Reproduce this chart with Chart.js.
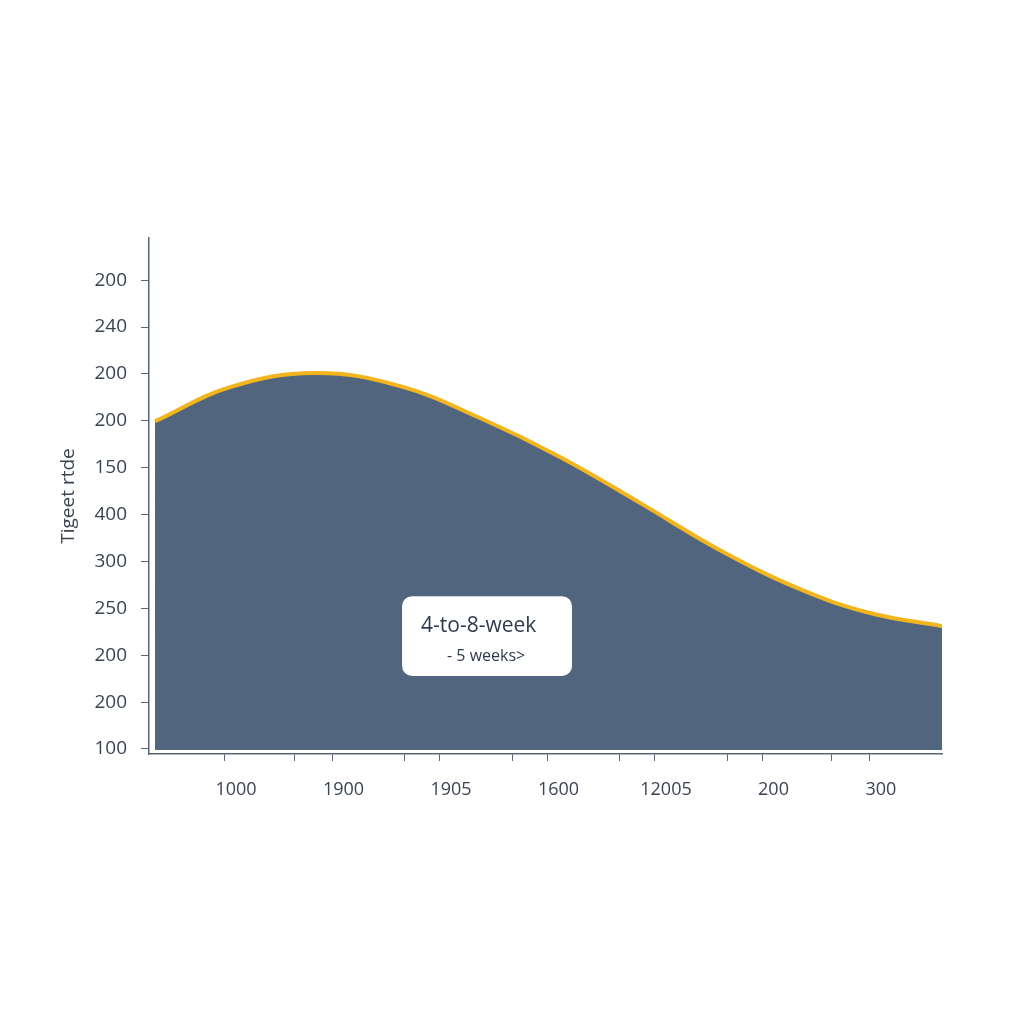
<!DOCTYPE html>
<html>
<head>
<meta charset="utf-8">
<script src="https://cdn.jsdelivr.net/npm/chart.js@4/dist/chart.umd.min.js"></script>
<style>
  html, body { margin: 0; padding: 0; background: #ffffff; }
  #wrap { width: 1024px; height: 1024px; position: relative; }
</style>
</head>
<body>
<div id="wrap"><canvas id="c" width="1024" height="1024"></canvas></div>
<script>
// ---- data ----
const yTickLabels = ['100', '200', '200', '250', '300', '400', '150', '200', '200', '240', '200'];
const xTickLabels = ['1000', '1900', '1905', '1600', '12005', '200', '300'];
const xPositions = [-0.651, 0.047, 0.837, 1.628, 2.372, 3.116, 3.860, 4.605, 5.349, 6.0, 6.67];
const seriesValues = [6.99, 7.72, 8.02, 7.74, 7.06, 6.23, 5.25, 4.24, 3.41, 2.90, 2.62];
const yAxisTitle = 'Tigeet rtde';
const noteTitle = '4-to-8-week';
const noteSub = '- 5 weeks>';

const dataPoints = xPositions.map((x, i) => ({ x: x, y: seriesValues[i] }));
const majorTicks = xTickLabels.map((_, i) => i);
const minorTicks = [0.65, 1.67, 2.67, 3.67, 4.67, 5.64];

const axisColor = '#5a6577';
const textColor = '#3b4453';
const font = "'Open Sans', 'DejaVu Sans', sans-serif";

const notePlugin = {
  id: 'note',
  afterDatasetsDraw(chart) {
    const { ctx, scales } = chart;
    const x0 = scales.x.getPixelForValue(1.647);
    const x1 = scales.x.getPixelForValue(3.228);
    const y0 = scales.y.getPixelForValue(3.26);
    const y1 = scales.y.getPixelForValue(1.556);
    ctx.save();
    ctx.fillStyle = '#ffffff';
    ctx.beginPath();
    ctx.roundRect(x0, y0, x1 - x0, y1 - y0, 10);
    ctx.fill();
    ctx.fillStyle = '#2f3a4c';
    ctx.textBaseline = 'middle';
    ctx.textAlign = 'left';
    ctx.font = "21px " + font;
    ctx.fillText(noteTitle, x0 + 19, y0 + 30);
    ctx.font = "16px " + font;
    ctx.fillText(noteSub, x0 + 45, y0 + 60);
    ctx.restore();
  }
};

new Chart(document.getElementById('c'), {
  type: 'line',
  data: {
    datasets: [{
      data: dataPoints,
      borderColor: '#f2b51d',
      borderWidth: 4,
      backgroundColor: '#52657f',
      fill: { value: -0.02 },
      pointRadius: 0,
      tension: 0.4
    }]
  },
  options: {
    responsive: false,
    animation: false,
    devicePixelRatio: 1,
    layout: { padding: { left: 57, top: 238, right: 82, bottom: 210 } },
    plugins: { legend: { display: false }, tooltip: { enabled: false } },
    scales: {
      x: {
        type: 'linear',
        min: -0.707,
        max: 6.67,
        afterBuildTicks(scale) {
          scale.ticks = majorTicks.concat(minorTicks).map(v => ({ value: v }));
        },
        afterFit(scale) { scale.height = 60; },
        ticks: {
          autoSkip: false,
          maxRotation: 0,
          padding: 18,
          labelOffset: 11,
          color: textColor,
          font: { family: font, size: 18 },
          callback(v) {
            const i = majorTicks.indexOf(v);
            return i >= 0 ? xTickLabels[i] : '';
          }
        },
        grid: { drawOnChartArea: false, drawTicks: true, tickLength: 7, color: axisColor, lineWidth: 1 },
        border: { display: true, color: axisColor, width: 1.5 }
      },
      y: {
        type: 'linear',
        min: -0.107,
        max: 10.9,
        afterBuildTicks(scale) {
          scale.ticks = yTickLabels.map((_, i) => ({ value: i }));
        },
        afterFit(scale) { scale.width = 92; },
        ticks: {
          autoSkip: false,
          padding: 14,
          color: textColor,
          font: { family: font, size: 19 },
          callback(v) { return yTickLabels[v] !== undefined ? yTickLabels[v] : ''; }
        },
        grid: { drawOnChartArea: false, drawTicks: true, tickLength: 8, color: axisColor, lineWidth: 1 },
        border: { display: true, color: axisColor, width: 1.5 },
        title: {
          display: true,
          text: yAxisTitle,
          color: textColor,
          font: { family: font, size: 19 },
          padding: 0
        }
      }
    }
  },
  plugins: [notePlugin]
});
</script>
</body>
</html>
